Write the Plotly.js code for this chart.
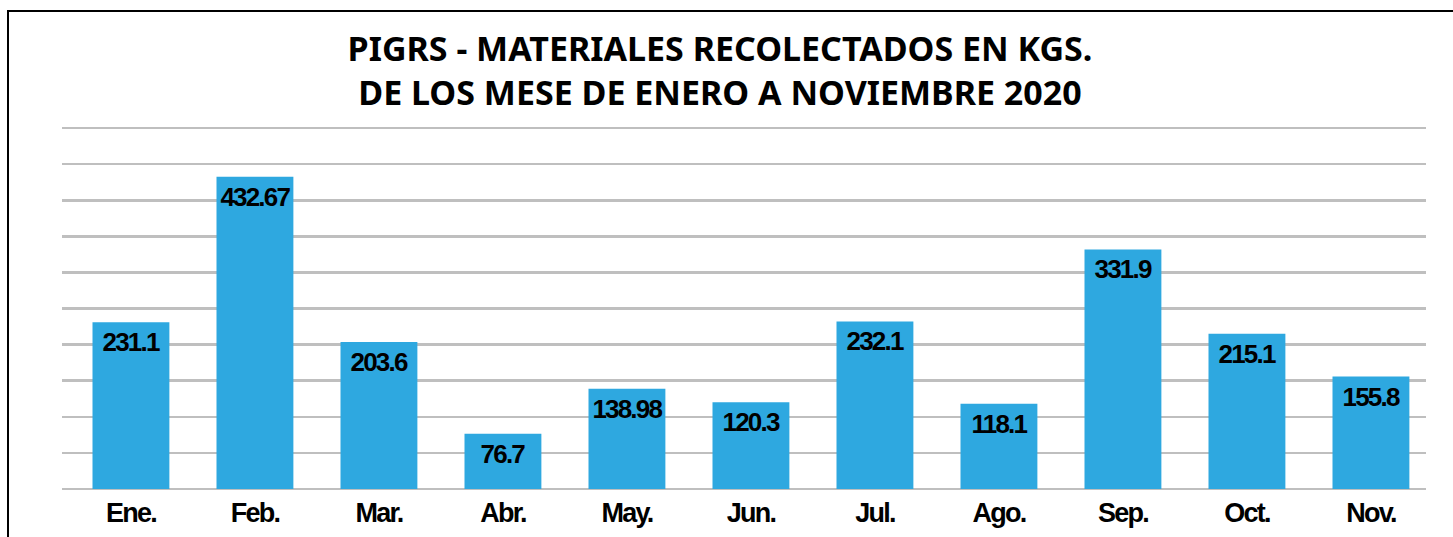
<!DOCTYPE html>
<html>
<head>
<meta charset="utf-8">
<script src="https://cdn.plot.ly/plotly-3.0.1.min.js"></script>
<style>
  html, body { margin: 0; padding: 0; background: #ffffff; overflow: hidden; }
  #frame { position: absolute; left: 7px; top: 10px; width: 1600px; height: 700px; border: 2.5px solid #000; box-sizing: border-box; }
  #chart { position: absolute; left: 0; top: 0; width: 1453px; height: 537px; }
  #chart .xtick text, #chart .annotation-text { letter-spacing: -1.8px; }
</style>
</head>
<body>
<div id="frame"></div>
<div id="chart"></div>
<script>
const months = ["Ene.", "Feb.", "Mar.", "Abr.", "May.", "Jun.", "Jul.", "Ago.", "Sep.", "Oct.", "Nov."];
const kgs = [231.1, 432.67, 203.6, 76.7, 138.98, 120.3, 232.1, 118.1, 331.9, 215.1, 155.8];
const labels = ["231.1", "432.67", "203.6", "76.7", "138.98", "120.3", "232.1", "118.1", "331.9", "215.1", "155.8"];
const titleLines = ["PIGRS - MATERIALES RECOLECTADOS EN KGS.", "DE LOS MESE DE ENERO A NOVIEMBRE 2020"];

const sansBold = "Liberation Sans, Arial, Helvetica, sans-serif";

const trace = {
  type: "bar",
  x: months,
  y: kgs,
  marker: { color: "#2ea8e0", line: { width: 0 } },
  hoverinfo: "skip"
};

const valueLabels = months.map((m, i) => ({
  x: m,
  y: kgs[i],
  xref: "x",
  yref: "y",
  text: labels[i],
  showarrow: false,
  xanchor: "center",
  yanchor: "top",
  yshift: -3,
  font: { family: sansBold, size: 26, color: "#000000", weight: 700 }
}));

const layout = {
  width: 1453,
  height: 537,
  margin: { l: 62, r: 27, t: 127, b: 48, pad: 0 },
  paper_bgcolor: "rgba(0,0,0,0)",
  plot_bgcolor: "rgba(0,0,0,0)",
  bargap: 0.38,
  showlegend: false,
  title: {
    text: titleLines.join("<br>"),
    font: { family: "Noto Sans, sans-serif", size: 34, color: "#000000", weight: 700 },
    x: 0.4955, xref: "container", xanchor: "center",
    y: 0.887, yref: "container", yanchor: "top"
  },
  annotations: valueLabels,
  xaxis: {
    type: "category",
    range: [-0.556, 10.444],
    showgrid: false,
    zeroline: false,
    showline: false,
    ticks: "",
    ticklabelstandoff: 5,
    tickfont: { family: sansBold, size: 27, color: "#000000", weight: 700 }
  },
  yaxis: {
    range: [0, 501.5],
    tickvals: [50, 100, 150, 200, 250, 300, 350, 400, 450, 500],
    showticklabels: false,
    showgrid: true,
    gridcolor: "#bfbfbf",
    gridwidth: 2.5,
    zeroline: true,
    zerolinecolor: "#bfbfbf",
    zerolinewidth: 2.5,
    showline: false,
    ticks: ""
  }
};

Plotly.newPlot("chart", [trace], layout, { displayModeBar: false, staticPlot: true });
</script>
</body>
</html>
